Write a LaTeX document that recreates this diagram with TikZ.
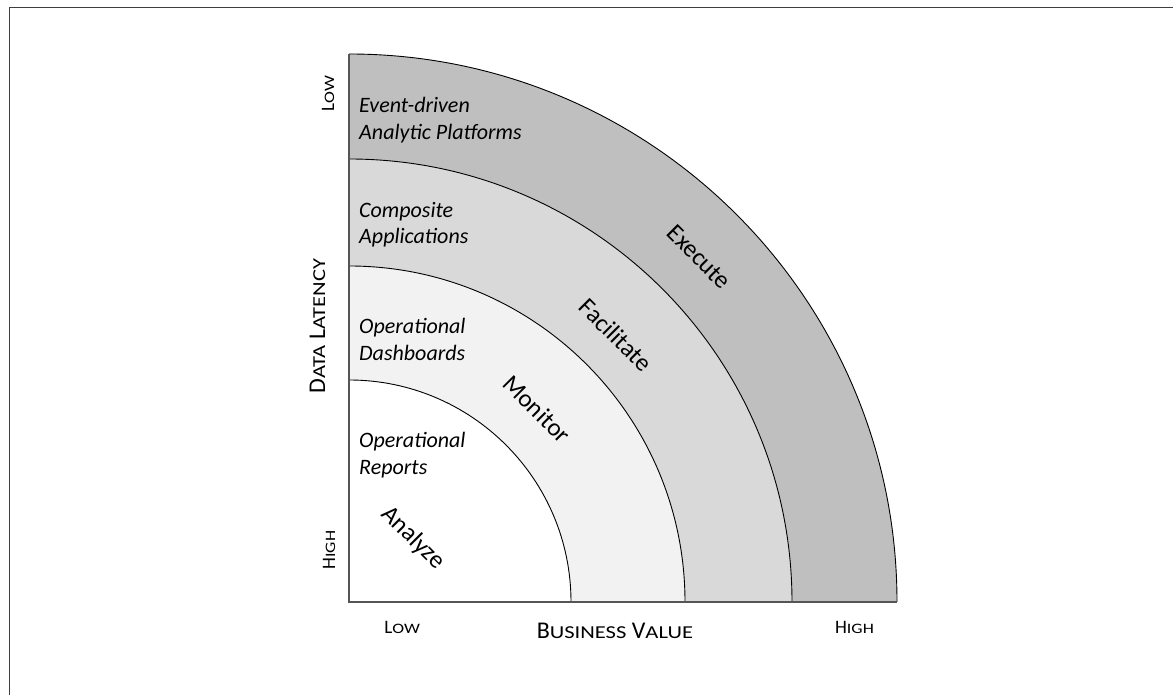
\documentclass[tikz,border=0pt]{standalone}
\usepackage{fontspec}
\setmainfont{Carlito}
\usetikzlibrary{calc}
\definecolor{bandA}{HTML}{BFBFBF}
\definecolor{bandB}{HTML}{D9D9D9}
\definecolor{bandC}{HTML}{F2F2F2}
\definecolor{frameline}{HTML}{3F3F3F}
\definecolor{axisline}{HTML}{555555}
% fake small caps: #1 = size of capitals
\newcommand\smallpart[2]{\scalebox{1.24}[1]{\fontsize{#1}{#1}\selectfont #2}}
\begin{document}
\begin{tikzpicture}[x=1pt,y=1pt,
  arcline/.style={draw=black,line width=0.9pt},
  tierlabel/.style={font=\fontsize{22}{27}\selectfont\itshape,anchor=base west,inner sep=0pt},
  bandlabel/.style={font=\fontsize{25}{29}\selectfont,inner sep=0pt},
  axistitle/.style={font=\fontsize{24}{28}\selectfont,anchor=base,inner sep=0pt},
  axisend/.style={font=\fontsize{19}{23}\selectfont,anchor=base,inner sep=0pt}]
\useasboundingbox (0,0) rectangle (1173,695);
\coordinate (O) at (349,93);
% bands
\fill[bandA] (O) -- ++(548,0) arc[start angle=0,end angle=90,radius=548] -- cycle;
\fill[bandB] (O) -- ++(443,0) arc[start angle=0,end angle=90,radius=443] -- cycle;
\fill[bandC] (O) -- ++(336,0) arc[start angle=0,end angle=90,radius=336] -- cycle;
\fill[white] (O) -- ++(222,0) arc[start angle=0,end angle=90,radius=222] -- cycle;
\foreach \r in {222,336,443,548}{
  \draw[arcline] ($(O)+(\r,0)$) arc[start angle=0,end angle=90,radius=\r];
}
% axes
\coordinate (ytop) at (349,641);
\coordinate (xend) at (897,93);
\draw[axisline,line width=1.2pt] (ytop) -- (O) -- (xend);
% frame
\coordinate (f1) at (9.5,0);
\coordinate (f2) at (9.5,687.5);
\coordinate (f3) at (1173,687.5);
\draw[frameline,line width=1.3pt] (f1) -- (f2) -- (f3);
% tier labels
\node[tierlabel] (t1a) at (359,582.7) {Event-driven};
\node[tierlabel] (t1b) at (359,555.7) {Analytic Platforms};
\node[tierlabel] (t2a) at (359,477.7) {Composite};
\node[tierlabel] (t2b) at (359,451) {Applications};
\node[tierlabel] (t3a) at (359,361) {Operational};
\node[tierlabel] (t3b) at (359,334) {Dashboards};
\node[tierlabel] (t4a) at (359,247.3) {Operational};
\node[tierlabel] (t4b) at (359,220) {Reports};
% band labels
\node[bandlabel,rotate=-45] (execute) at (699,438) {Execute};
\node[bandlabel,rotate=-45] (facilitate) at (616,360) {Facilitate};
\node[bandlabel,rotate=-45] (monitor) at (537,286) {Monitor};
\node[bandlabel,rotate=-45] (analyze) at (413,157) {Analyze};
% axis labels
\node[axistitle,rotate=90] (ylab) at (325,369) {D\smallpart{18.2}{ATA} L\smallpart{18.2}{ATENCY}};
\node[axisend,rotate=90] (ylow) at (334,601.5) {L\smallpart{14.4}{OW}};
\node[axisend,rotate=90] (yhigh) at (335,145) {H\smallpart{14.4}{IGH}};
\node[axisend] (xlow) at (402.2,61.7) {L\smallpart{14.4}{OW}};
\node[axistitle] (xlab) at (614.9,56) {B\smallpart{18.2}{USINESS} V\smallpart{18.2}{ALUE}};
\node[axisend] (xhigh) at (854.5,61.7) {H\smallpart{14.4}{IGH}};
\end{tikzpicture}
\end{document}
